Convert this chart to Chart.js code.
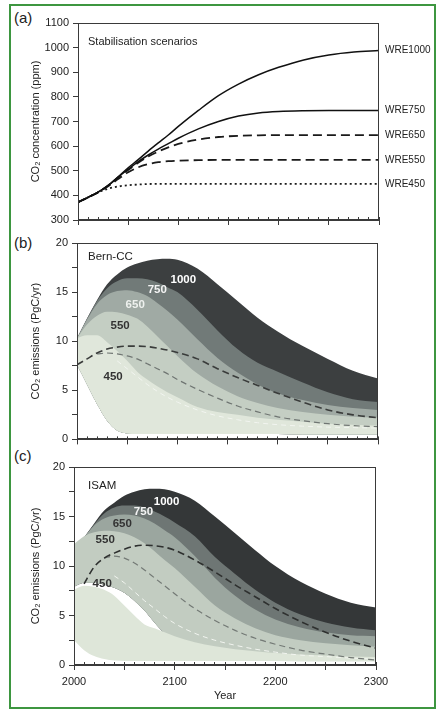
<!DOCTYPE html>
<html><head><meta charset="utf-8">
<script src="https://cdn.jsdelivr.net/npm/chart.js@4.4.1/dist/chart.umd.min.js"></script>
<style>
html,body{margin:0;padding:0;background:#fff;}
body{width:438px;height:713px;position:relative;overflow:hidden;font-family:"Liberation Sans",Arial,sans-serif;}
.frame{position:absolute;left:9px;top:4px;width:427px;height:705px;border:2px solid #3d9640;box-sizing:border-box;}
.pl{position:absolute;left:14px;font-size:15px;color:#222;}
canvas{position:absolute;left:0;}
</style></head>
<body>
<div class="frame"></div>
<div class="pl" style="top:9px">(a)</div>
<div class="pl" style="top:234px">(b)</div>
<div class="pl" style="top:447px">(c)</div>
<canvas id="ca" width="438" height="232" style="top:0px"></canvas>
<canvas id="cb" width="438" height="218" style="top:232px"></canvas>
<canvas id="cc" width="438" height="263" style="top:450px"></canvas>
<script>
// ---------- shared x values (years) ----------
const years = [2000,2010,2020,2030,2040,2050,2060,2070,2080,2090,2100,2120,2140,2160,2180,2200,2225,2250,2275,2300];

// ---------- (a) CO2 concentration, ppm ----------
const wre1000 = [372,392,413,440,475,512,545,580,613,645,680,745,805,852,890,920,950,970,982,988];
const wre750  = [372,392,413,440,474,506,537,564,588,610,632,670,700,722,735,741,744,745,745,745];
const wre650  = [372,392,413,440,472,503,532,558,578,595,609,627,637,642,644,645,645,645,645,645];
const wre550  = [372,392,412,437,466,494,514,527,535,539,541,543,544,544,544,544,544,544,544,544];
const wre450  = [372,392,412,427,436,441,444,446,447,447,447,447,447,447,447,447,447,447,447,447];
const wreNames = ['WRE1000','WRE750','WRE650','WRE550','WRE450'];

// ---------- (b) Bern-CC emissions, PgC/yr ----------
const bern1000 = [10.3,12.3,14.2,15.8,16.8,17.5,17.9,18.2,18.35,18.4,18.3,17.4,15.8,14.1,12.4,11.0,9.5,8.2,7.0,6.2];
const bern750  = [10.3,12.3,14.1,15.4,16.1,16.4,16.4,16.3,16.0,15.5,15.0,13.2,11.1,9.2,7.8,6.9,5.8,4.8,4.1,3.8];
const bern650  = [10.3,12.2,13.8,14.7,15.1,15.2,15.0,14.6,13.9,13.1,12.2,10.2,8.3,6.8,5.6,4.7,4.0,3.5,3.2,3.0];
const bern550  = [10.3,11.7,12.6,13.0,12.95,12.7,12.3,11.5,10.5,9.5,8.5,6.7,5.4,4.4,3.7,3.2,2.8,2.5,2.3,2.2];
const bern450  = [10.3,10.6,10.6,9.9,9.0,8.0,6.9,6.1,5.4,4.8,4.3,3.3,2.8,2.5,2.2,2.0,1.8,1.6,1.5,1.4];
const bernLow  = [7.6,5.6,3.6,1.9,0.9,0.6,0.55,0.55,0.55,0.55,0.55,0.55,0.55,0.55,0.55,0.55,0.5,0.5,0.5,0.5];
const bernDashA = [7.6,8.2,8.8,9.2,9.4,9.5,9.5,9.45,9.3,9.1,8.85,8.2,7.2,6.3,5.5,4.7,3.8,3.0,2.5,2.2];
const bernDashB = [null,null,8.7,8.8,8.7,8.5,8.2,7.7,7.2,6.7,6.1,5.1,4.2,3.4,2.8,2.3,1.9,1.6,1.4,1.3];
const bernDashC = [null,null,null,null,8.0,7.2,6.4,5.6,4.9,4.3,3.8,3.0,2.4,2.0,1.7,1.5,1.35,1.25,1.2,1.15];

// ---------- (c) ISAM emissions, PgC/yr ----------
const isam1000 = [11.8,12.9,14.3,15.6,16.4,17.1,17.5,17.75,17.8,17.75,17.5,16.6,15.0,13.3,11.6,10.0,8.4,7.2,6.3,5.8];
const isam750  = [11.8,12.9,14.2,15.3,15.9,16.1,16.1,15.9,15.5,15.0,14.4,13.0,10.9,9.2,7.6,6.3,5.1,4.3,3.8,3.5];
const isam650  = [11.8,12.9,14.1,14.8,15.1,15.2,15.1,14.8,14.3,13.6,12.9,11.0,8.8,7.0,5.6,4.6,3.8,3.3,3.0,2.9];
const isam550  = [12.2,13.0,13.4,13.55,13.5,13.3,12.9,12.3,11.5,10.6,9.8,7.9,6.0,4.7,3.7,3.0,2.5,2.2,2.0,1.85];
const isam550Low = [7.9,8.3,8.3,8.1,7.8,7.3,6.5,5.5,4.3,3.2,2.5,1.8,1.3,1.0,0.8,0.7,0.6,0.6,0.5,0.5];
const isam450  = [7.6,8.0,7.9,7.6,7.0,6.0,5.0,4.1,3.7,3.3,2.9,2.3,1.9,1.6,1.4,1.2,1.05,0.95,0.85,0.8];
const isam450Low = [2.5,1.5,0.9,0.6,0.45,0.4,0.4,0.4,0.4,0.4,0.4,0.4,0.4,0.4,0.4,0.4,0.35,0.35,0.35,0.35];
const isamDashA = [null,8.2,9.9,10.8,11.3,11.7,12.0,12.1,12.05,11.9,11.6,10.6,9.4,8.1,6.9,5.7,4.4,3.3,2.4,1.7];
const isamDashB = [null,null,null,10.8,11.0,10.8,10.3,9.6,8.8,8.0,7.2,5.7,4.5,3.5,2.7,2.1,1.5,1.1,0.75,0.5];
const isamDashC = [null,null,null,null,9.0,8.3,7.4,6.5,5.7,4.9,4.2,3.2,2.5,2.0,1.6,1.3,1.0,0.85,0.7,0.6];

// ---------- styling ----------
const FONT = "'Liberation Sans', Arial, Helvetica, sans-serif";
const AX = '#3a3a3a';
const TXT = '#222';
const bandColors = {b1000:'#3c3f40', b750:'#717a78', b650:'#a0aaa4', b550:'#c4cec3', b450:'#e0e7db'};

function pts(arr){ return years.map((x,i)=>({x:x, y:arr[i]})); }
function line(arr, color, width, dash, extra){
  return Object.assign({data:pts(arr), borderColor:color, borderWidth:width, borderDash:dash||[],
    pointRadius:0, pointHitRadius:0, fill:false, cubicInterpolationMode:'monotone', spanGaps:false}, extra||{});
}
function band(arr, color, target){
  return line(arr, color, 0, [], {backgroundColor:color, fill:{target:target}});
}

const framePlugin = {
  id:'frameBox',
  afterDatasetsDraw(chart){
    const a = chart.chartArea, ctx = chart.ctx;
    ctx.save(); ctx.strokeStyle = AX; ctx.lineWidth = 1;
    ctx.strokeRect(Math.round(a.left)+0.5, Math.round(a.top)+0.5, Math.round(a.right-a.left)-1, Math.round(a.bottom-a.top)-1);
    ctx.restore();
  }
};
const notePlugin = {
  id:'notes',
  afterDatasetsDraw(chart, args, opts){
    const ctx = chart.ctx, xs = chart.scales.x, ys = chart.scales.y;
    (opts.items||[]).forEach(n=>{
      ctx.save(); ctx.font = n.font; ctx.fillStyle = n.color;
      ctx.textAlign = n.align||'center'; ctx.textBaseline = 'middle';
      ctx.fillText(n.text, xs.getPixelForValue(n.x), ys.getPixelForValue(n.y));
      ctx.restore();
    });
  }
};

function scales(o){
  const s = {
    x:{type:'linear', position:'bottom', min:2000, max:2300, weight:1,
      afterFit: sc=>{ sc.height = o.xH; },
      border:{display:true, color:AX, width:1},
      grid:{drawOnChartArea:false, drawTicks:true, tickLength:-3, color:AX, lineWidth:1},
      ticks:{stepSize:10, autoSkip:false, maxTicksLimit:100, maxRotation:0, padding:13, color:TXT,
        font:{family:FONT, size:11}, callback:v=> (o.xLabels && v%100===0) ? String(v) : ''},
      title: o.xTitle ? {display:true, text:'Year', color:TXT, font:{family:FONT,size:11}, padding:{top:0,bottom:10}} : {display:false}
    },
    x2:{type:'linear', position:'bottom', min:2000, max:2300, weight:0,
      afterFit: sc=>{ sc.height = 0; },
      border:{display:false},
      grid:{drawOnChartArea:false, drawTicks:true, tickLength:5, color:AX, lineWidth:1},
      ticks:{stepSize:50, display:false, autoSkip:false, maxTicksLimit:100}
    },
    y:{type:'linear', position:'left', min:o.yMin, max:o.yMax,
      afterFit: sc=>{ sc.width = o.yW; },
      border:{display:true, color:AX, width:1},
      grid:{drawOnChartArea:false, drawTicks:true, tickLength:5, color:AX, lineWidth:1},
      ticks:{stepSize:o.yStep, autoSkip:false, padding:4, color:TXT, font:{family:FONT,size:11}, callback:o.yCb},
      title:{display:true, text:o.yTitle, color:TXT, font:{family:FONT,size:11}, padding:{top:29,bottom:0}}
    }
  };
  return s;
}
const baseOpts = {responsive:false, animation:false, events:[], plugins:{legend:{display:false}, tooltip:{enabled:false}}};

// ---------- (a) ----------
const aSeries = [wre1000, wre750, wre650, wre550, wre450];
const aEnds = aSeries.map(s=>s[s.length-1]);
const scA = scales({xH:9, yW:78, yMin:300, yMax:1100, yStep:100, yTitle:'CO\u2082 concentration (ppm)', yCb:v=>String(v)});
scA.yR = {type:'linear', position:'right', min:300, max:1100,
  afterFit: sc=>{ sc.width = 59; },
  afterBuildTicks: sc=>{ sc.ticks = aEnds.map(v=>({value:v})); },
  border:{display:false}, grid:{display:false, drawTicks:false},
  ticks:{autoSkip:false, padding:6, color:TXT, font:{family:FONT,size:10}, callback:(v,i)=>wreNames[i]}
};
new Chart(document.getElementById('ca'), {
  type:'line',
  data:{datasets:[
    line(wre1000,'#111',1.5),
    line(wre750,'#111',1.5),
    line(wre650,'#1a1a1a',1.8,[9,5]),
    line(wre550,'#1a1a1a',1.8,[9,5]),
    line(wre450,'#1a1a1a',1.8,[2,3])
  ]},
  options:Object.assign({}, baseOpts, {
    layout:{padding:{top:23, left:0, right:0, bottom:0}},
    scales:scA,
    plugins:Object.assign({}, baseOpts.plugins, {notes:{items:[
      {text:'Stabilisation scenarios', x:2010, y:1024, color:TXT, font:"11px "+FONT, align:'left'}
    ]}})
  }),
  plugins:[framePlugin, notePlugin]
});

// ---------- (b) ----------
new Chart(document.getElementById('cb'), {
  type:'line',
  data:{datasets:[
    line(bernDashA,'#3a3c3b',1.6,[7,4]),
    line(bernDashB,'#6f7572',1.2,[6,4]),
    line(bernDashC,'#f2f5f0',1.0,[5,4]),
    band(bern450, bandColors.b450, 8),
    band(bern550, bandColors.b550, 8),
    band(bern650, bandColors.b650, 8),
    band(bern750, bandColors.b750, 8),
    band(bern1000, bandColors.b1000, 8),
    line(bernLow,'rgba(0,0,0,0)',0)
  ]},
  options:Object.assign({}, baseOpts, {
    layout:{padding:{top:11, left:0, right:60, bottom:0}},
    scales:scales({xH:8, yW:77, yMin:0, yMax:20, yStep:2.5, yTitle:'CO\u2082 emissions (PgC/yr)', yCb:v=> v%5===0 ? String(v) : ''}),
    plugins:Object.assign({}, baseOpts.plugins, {notes:{items:[
      {text:'Bern-CC', x:2011, y:18.6, color:TXT, font:"11.5px "+FONT, align:'left'},
      {text:'1000', x:2106, y:16.3, color:'#fff', font:"bold 11.5px "+FONT},
      {text:'750', x:2080, y:15.2, color:'#f4f4f4', font:"bold 11.5px "+FONT},
      {text:'650', x:2058, y:13.7, color:'#eef1ee', font:"bold 11.5px "+FONT},
      {text:'550', x:2043, y:11.6, color:'#333', font:"bold 11.5px "+FONT},
      {text:'450', x:2036, y:6.4, color:'#333', font:"bold 11.5px "+FONT}
    ]}})
  }),
  plugins:[framePlugin, notePlugin]
});

// ---------- (c) ----------
new Chart(document.getElementById('cc'), {
  type:'line',
  data:{datasets:[
    line(isamDashA,'#2e302f',1.6,[7,4]),
    line(isamDashB,'#737975',1.2,[6,4]),
    line(isamDashC,'#f2f5f0',1.0,[5,4]),
    band(isam450, '#dee6d9', 4),
    line(isam450Low,'rgba(0,0,0,0)',0),
    band(isam550, '#c2ccc1', 9),
    band(isam650, '#9ba69f', 9),
    band(isam750, '#6e7674', 9),
    band(isam1000, '#343738', 9),
    line(isam550Low,'rgba(0,0,0,0)',0)
  ]},
  options:Object.assign({}, baseOpts, {
    layout:{padding:{top:17, left:0, right:62, bottom:0}},
    scales:scales({xH:48, yW:74, yMin:0, yMax:20, yStep:2.5, xLabels:true, xTitle:true, yTitle:'CO\u2082 emissions (PgC/yr)', yCb:v=> v%5===0 ? String(v) : ''}),
    plugins:Object.assign({}, baseOpts.plugins, {notes:{items:[
      {text:'ISAM', x:2014, y:18.1, color:TXT, font:"11.5px "+FONT, align:'left'},
      {text:'1000', x:2092, y:16.5, color:'#fff', font:"bold 11.5px "+FONT},
      {text:'750', x:2069, y:15.5, color:'#f4f4f4', font:"bold 11.5px "+FONT},
      {text:'650', x:2048, y:14.3, color:'#333', font:"bold 11.5px "+FONT},
      {text:'550', x:2031, y:12.6, color:'#333', font:"bold 11.5px "+FONT},
      {text:'450', x:2028, y:8.2, color:'#333', font:"bold 11.5px "+FONT}
    ]}})
  }),
  plugins:[framePlugin, notePlugin]
});
</script>
</body></html>
